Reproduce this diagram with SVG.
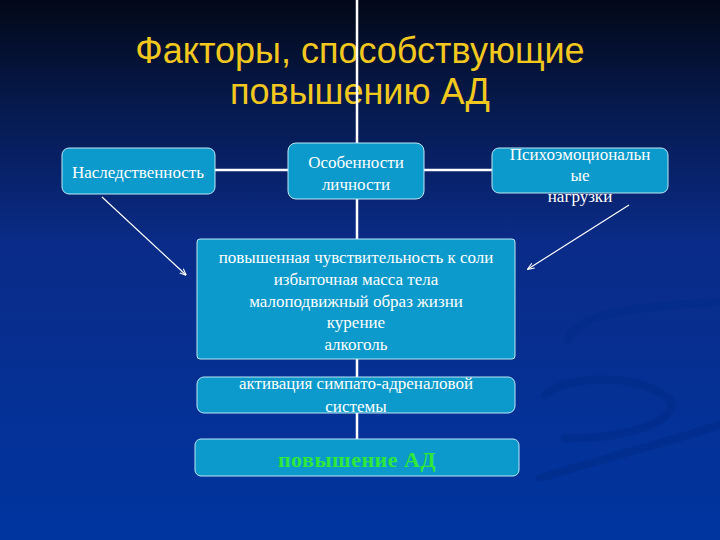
<svg xmlns="http://www.w3.org/2000/svg" width="720" height="540" viewBox="0 0 720 540">
<defs>
<linearGradient id="bg" x1="0" y1="0" x2="0" y2="1">
<stop offset="0" stop-color="#020817"/>
<stop offset="0.2" stop-color="#061a4e"/>
<stop offset="0.45" stop-color="#0a2b88"/>
<stop offset="1" stop-color="#0035a0"/>
</linearGradient>
<marker id="ah" viewBox="0 0 10 10" refX="9" refY="5" markerWidth="7" markerHeight="7" orient="auto" markerUnits="userSpaceOnUse">
<path d="M0,1 L10,5 L0,9" fill="none" stroke="#ffffff" stroke-width="1.5"/>
</marker>
<style>
.box{fill:#0b9acb;stroke:#bfe8f5;stroke-width:1}
.t{font-family:"Liberation Serif",serif;font-size:17px;fill:#ffffff;text-anchor:middle}
.ln{stroke:#ffffff;stroke-width:2.5;fill:none}
.ar{stroke:#ffffff;stroke-width:1.2;fill:none;marker-end:url(#ah)}
.ti{font-family:"Liberation Sans",Arial,sans-serif;font-size:36px;fill:#f2c81e;text-anchor:middle}
</style>
</defs>
<rect width="720" height="540" fill="url(#bg)"/>
<g fill="none" stroke="#022c8a" stroke-width="8" stroke-linecap="round" opacity="0.6">
<path d="M568,340 C578,312 640,306 720,302"/>
<path d="M545,395 C565,375 640,372 670,400 C682,420 625,440 565,438"/>
<path d="M540,478 C600,460 680,438 720,425"/>
</g>
<g id="title">
<text class="ti" x="360" y="63">Факторы, способствующие</text>
<text class="ti" x="360" y="104">повышению АД</text>
</g>
<g id="connectors">
<line class="ln" x1="357" y1="0" x2="357" y2="440"/>
<line class="ln" x1="215" y1="170" x2="492" y2="170"/>
<line class="ar" x1="102" y1="197" x2="186" y2="275"/>
<line class="ar" x1="629" y1="205" x2="528" y2="269"/>
</g>
<g id="n1">
<rect class="box" x="62" y="148" width="153" height="46" rx="7"/>
<text class="t" x="138" y="178">Наследственность</text>
</g>
<g id="n2">
<rect class="box" x="288" y="143" width="136" height="56" rx="8"/>
<text class="t" x="356" y="168">Особенности</text>
<text class="t" x="356" y="190">личности</text>
</g>
<g id="n3">
<rect class="box" x="492" y="148" width="176" height="45" rx="7"/>
<text class="t" x="580" y="160">Психоэмоциональн</text>
<text class="t" x="580" y="181">ые</text>
<text class="t" x="580" y="202">нагрузки</text>
</g>
<g id="n4">
<rect class="box" x="197" y="239" width="318" height="120" rx="3"/>
<text class="t" x="356" y="263">повышенная чувствительность к соли</text>
<text class="t" x="356" y="285">избыточная масса тела</text>
<text class="t" x="356" y="307">малоподвижный образ жизни</text>
<text class="t" x="356" y="328">курение</text>
<text class="t" x="356" y="350">алкоголь</text>
</g>
<g id="n5">
<rect class="box" x="197" y="377" width="318" height="36" rx="7"/>
<text class="t" x="356" y="389">активация симпато-адреналовой</text>
<text class="t" x="356" y="412">системы</text>
</g>
<g id="n6">
<rect class="box" x="195" y="439" width="324" height="37" rx="6"/>
<text x="357" y="467" style="font-family:'Liberation Serif',serif;font-size:22px;font-weight:bold;fill:#2ee83a;text-anchor:middle;letter-spacing:0.5px">повышение АД</text>
</g>
</svg>
